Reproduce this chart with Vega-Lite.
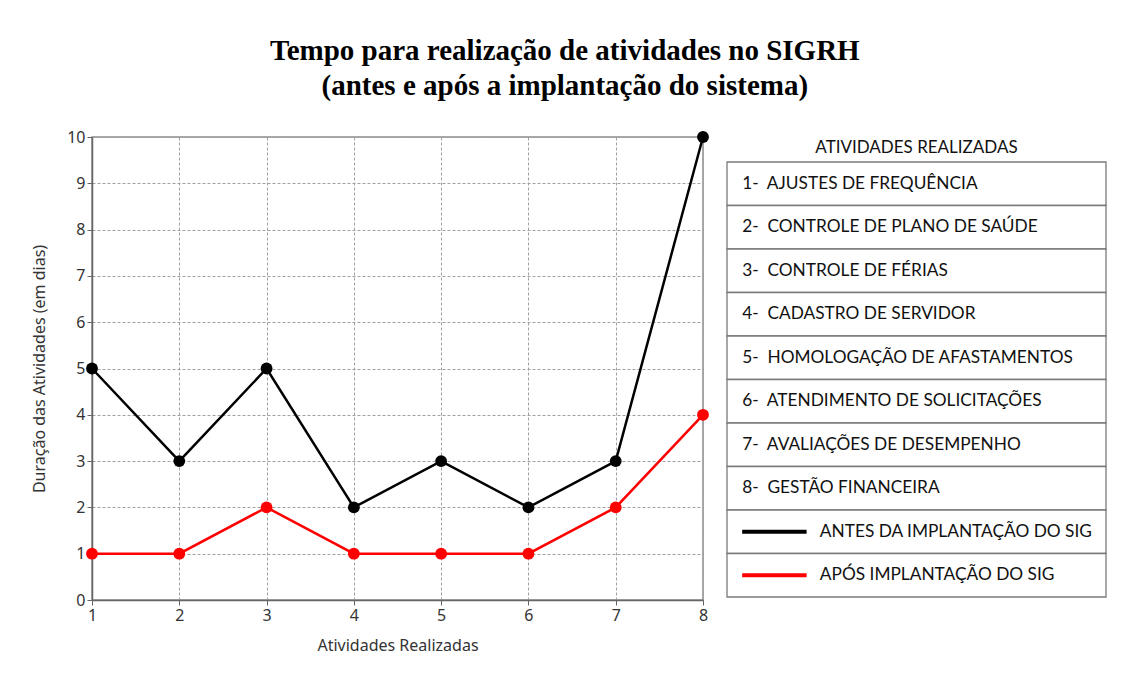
{
  "$schema": "https://vega.github.io/schema/vega-lite/v6.json",
  "background": "white",
  "padding": {"left": 30, "top": 37, "right": 5, "bottom": 5},
  "title": {
    "text": ["Tempo para realização de atividades no SIGRH", "(antes e após a implantação do sistema)"],
    "font": "Liberation Serif",
    "fontSize": 29,
    "fontWeight": "bold",
    "color": "black",
    "lineHeight": 35,
    "anchor": "middle",
    "offset": 27,
    "dx": -4
  },
  "datasets": {
    "serie": [
      {"atividade": 1, "duracao": 5, "serie": "Antes"},
      {"atividade": 2, "duracao": 3, "serie": "Antes"},
      {"atividade": 3, "duracao": 5, "serie": "Antes"},
      {"atividade": 4, "duracao": 2, "serie": "Antes"},
      {"atividade": 5, "duracao": 3, "serie": "Antes"},
      {"atividade": 6, "duracao": 2, "serie": "Antes"},
      {"atividade": 7, "duracao": 3, "serie": "Antes"},
      {"atividade": 8, "duracao": 10, "serie": "Antes"},
      {"atividade": 1, "duracao": 1, "serie": "Após"},
      {"atividade": 2, "duracao": 1, "serie": "Após"},
      {"atividade": 3, "duracao": 2, "serie": "Após"},
      {"atividade": 4, "duracao": 1, "serie": "Após"},
      {"atividade": 5, "duracao": 1, "serie": "Após"},
      {"atividade": 6, "duracao": 1, "serie": "Após"},
      {"atividade": 7, "duracao": 2, "serie": "Após"},
      {"atividade": 8, "duracao": 4, "serie": "Após"}
    ],
    "tabela": [
      {"item": "1-\u00a0 AJUSTES DE FREQUÊNCIA", "tipo": "atividade"},
      {"item": "2-\u00a0 CONTROLE DE PLANO DE SAÚDE", "tipo": "atividade"},
      {"item": "3-\u00a0 CONTROLE DE FÉRIAS", "tipo": "atividade"},
      {"item": "4-\u00a0 CADASTRO DE SERVIDOR", "tipo": "atividade"},
      {"item": "5-\u00a0 HOMOLOGAÇÃO DE AFASTAMENTOS", "tipo": "atividade"},
      {"item": "6-\u00a0 ATENDIMENTO DE SOLICITAÇÕES", "tipo": "atividade"},
      {"item": "7-\u00a0 AVALIAÇÕES DE DESEMPENHO", "tipo": "atividade"},
      {"item": "8-\u00a0 GESTÃO FINANCEIRA", "tipo": "atividade"},
      {"item": "ANTES DA IMPLANTAÇÃO DO SIG", "tipo": "serie", "serie": "Antes"},
      {"item": "APÓS IMPLANTAÇÃO DO SIG", "tipo": "serie", "serie": "Após"}
    ]
  },
  "hconcat": [
    {
      "width": 611,
      "height": 463,
      "data": {"name": "serie"},
      "encoding": {
        "x": {
          "field": "atividade",
          "type": "quantitative",
          "scale": {"domain": [1, 8], "nice": false, "zero": false},
          "axis": {"title": "Atividades Realizadas", "values": [1, 2, 3, 4, 5, 6, 7, 8], "labelFlush": false, "labelAngle": 0, "titlePadding": 14, "labelFontSize": 16, "titleFontSize": 16}
        },
        "y": {
          "field": "duracao",
          "type": "quantitative",
          "scale": {"domain": [0, 10], "nice": false},
          "axis": {"title": "Duração das Atividades (em dias)", "values": [0, 1, 2, 3, 4, 5, 6, 7, 8, 9, 10], "titlePadding": 19, "labelFontSize": 16, "titleFontSize": 16}
        },
        "color": {
          "field": "serie",
          "type": "nominal",
          "scale": {"domain": ["Antes", "Após"], "range": ["#000000", "#ff0000"]},
          "legend": null
        }
      },
      "layer": [
        {"mark": {"type": "line", "strokeWidth": 2.5}},
        {"mark": {"type": "point", "filled": true, "size": 140, "opacity": 1}}
      ]
    },
    {
      "spacing": 0,
      "vconcat": [
        {
          "width": 379,
          "height": 24,
          "view": {"stroke": null},
          "data": {"values": [{"titulo": "ATIVIDADES REALIZADAS"}]},
          "mark": {"type": "text", "font": "Lato", "fontSize": 17, "color": "#111111", "baseline": "middle", "dy": -1},
          "encoding": {
            "x": {"datum": 0.5, "type": "quantitative", "scale": {"domain": [0, 1]}, "axis": null},
            "text": {"field": "titulo"}
          }
        },
        {
          "width": 379,
          "height": 435,
          "view": {"stroke": null},
          "data": {"name": "tabela"},
          "encoding": {
            "y": {"field": "item", "type": "nominal", "sort": null, "axis": null, "scale": {"paddingInner": 0, "paddingOuter": 0}}
          },
          "layer": [
            {
              "mark": {"type": "rect", "fill": "white", "stroke": "#7a7a7a", "strokeWidth": 1.3},
              "encoding": {
                "x": {"datum": 0, "type": "quantitative", "scale": {"domain": [0, 1]}, "axis": null},
                "x2": {"datum": 1}
              }
            },
            {
              "transform": [{"filter": "datum.tipo === 'atividade'"}],
              "mark": {"type": "text", "align": "left", "baseline": "middle", "font": "Lato", "fontSize": 17.3, "color": "#111111"},
              "encoding": {
                "x": {"datum": 0.04, "type": "quantitative"},
                "text": {"field": "item"}
              }
            },
            {
              "transform": [{"filter": "datum.tipo === 'serie'"}],
              "mark": {"type": "rule", "strokeWidth": 4},
              "encoding": {
                "x": {"datum": 0.04, "type": "quantitative"},
                "x2": {"datum": 0.21},
                "color": {
                  "field": "serie",
                  "type": "nominal",
                  "scale": {"domain": ["Antes", "Após"], "range": ["#000000", "#ff0000"]},
                  "legend": null
                }
              }
            },
            {
              "transform": [{"filter": "datum.tipo === 'serie'"}],
              "mark": {"type": "text", "align": "left", "baseline": "middle", "font": "Lato", "fontSize": 17.3, "color": "#111111"},
              "encoding": {
                "x": {"datum": 0.245, "type": "quantitative"},
                "text": {"field": "item"}
              }
            }
          ]
        }
      ]
    }
  ],
  "spacing": 16,
  "config": {
    "view": {"stroke": "#8c8c8c", "strokeWidth": 1.5},
    "axis": {
      "labelFont": "Noto Sans",
      "labelFontSize": 16,
      "labelColor": "#333333",
      "titleFont": "Noto Sans",
      "titleFontSize": 16,
      "titleFontWeight": "normal",
      "titleColor": "#333333",
      "domainColor": "#666666",
      "domainWidth": 1.5,
      "tickColor": "#666666",
      "tickSize": 5,
      "gridColor": "#a0a0a0",
      "gridDash": [3, 2],
      "gridWidth": 1,
      "labelOverlap": false
    }
  }
}
